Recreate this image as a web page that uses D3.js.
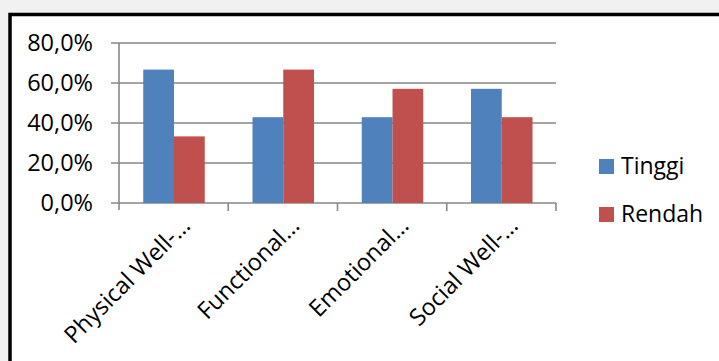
<!DOCTYPE html>
<html>
<head>
<meta charset="utf-8">
<script src="https://cdn.jsdelivr.net/npm/d3@7"></script>
<style>
  body { margin: 0; background: #f1f1f1; }
  svg { display: block; }
  text { font-family: "Open Sans", sans-serif; fill: #000; }
</style>
</head>
<body>
<svg width="719" height="361"></svg>
<script>
// chart data
let categories = ['Physical Well-…', 'Functional…', 'Emotional…', 'Social Well-…'];
let seriesNames = ['Tinggi', 'Rendah'];
let tinggi = [66.7, 42.9, 42.9, 57.1];
let rendah = [33.3, 66.7, 57.1, 42.9];
let yTicks = [0, 20, 40, 60, 80];
let colors = ['#4f81bd', '#c0504d'];

let svg = d3.select('svg');

// white chart box with thick black frame (right/bottom run off the picture)
svg.append('rect')
    .attr('x', 10)
    .attr('y', 14.5)
    .attr('width', 720)
    .attr('height', 360)
    .attr('fill', '#fff')
    .attr('stroke', '#000')
    .attr('stroke-width', 3.5);

let plot = {l: 119, r: 556, t: 43, b: 203};

let x0 = d3.scaleBand()
    .domain(categories)
    .range([plot.l, plot.r])
    .padding(0);

let bw = x0.bandwidth();
let x1 = d3.scaleBand()
    .domain(seriesNames)
    .range([bw * 0.222, bw * 0.785]);

let y = d3.scaleLinear()
    .domain([0, 80])
    .range([plot.b, plot.t]);

// gridlines
svg.append('g')
    .selectAll('line')
    .data(yTicks)
    .join('line')
    .attr('x1', plot.l - 8)
    .attr('x2', plot.r)
    .attr('y1', d => y(d))
    .attr('y2', d => y(d))
    .attr('stroke', '#878787')
    .attr('stroke-width', 1.6);

// y axis line
svg.append('line')
    .attr('x1', plot.l).attr('x2', plot.l)
    .attr('y1', plot.t).attr('y2', plot.b + 7)
    .attr('stroke', '#878787')
    .attr('stroke-width', 1.6);

// category ticks
let tickPos = categories.map(c => x0(c)).concat([plot.r]);
svg.append('g')
    .selectAll('line')
    .data(tickPos.slice(1))
    .join('line')
    .attr('x1', d => d).attr('x2', d => d)
    .attr('y1', plot.b).attr('y2', plot.b + 8)
    .attr('stroke', '#878787')
    .attr('stroke-width', 1.6);

// y labels
svg.append('g')
    .selectAll('text')
    .data(yTicks)
    .join('text')
    .attr('x', 93)
    .attr('y', d => y(d))
    .attr('dy', '0.36em')
    .attr('text-anchor', 'end')
    .style('font-size', '23.5px')
    .text(d => d.toFixed(1).replace('.', ',') + '%');

// bars
let rows = categories.map((c, i) => ({cat: c, vals: [tinggi[i], rendah[i]]}));
let groups = svg.append('g')
    .selectAll('g')
    .data(rows)
    .join('g')
    .attr('transform', d => 'translate(' + x0(d.cat) + ',0)');

groups.selectAll('rect')
    .data(d => d.vals.map((v, j) => ({name: seriesNames[j], v: v, j: j})))
    .join('rect')
    .attr('x', d => x1(d.name))
    .attr('y', d => y(d.v))
    .attr('width', x1.bandwidth())
    .attr('height', d => plot.b - y(d.v))
    .attr('fill', d => colors[d.j]);

// rotated category labels
svg.append('g')
    .selectAll('text')
    .data(categories)
    .join('text')
    .attr('transform', d => 'translate(' + (x0(d) + bw / 2 + 18) + ',227) rotate(-45)')
    .attr('text-anchor', 'end')
    .style('font-size', '23.5px')
    .text(d => d);

// legend
let legend = svg.append('g')
    .selectAll('g')
    .data(seriesNames)
    .join('g')
    .attr('transform', (d, i) => 'translate(599,' + (159 + i * 48) + ')');

legend.append('rect')
    .attr('width', 15)
    .attr('height', 15)
    .attr('fill', (d, i) => colors[i]);

legend.append('text')
    .attr('x', 22)
    .attr('y', 14.5)
    .style('font-size', '23px')
    .text(d => d);
</script>
</body>
</html>
